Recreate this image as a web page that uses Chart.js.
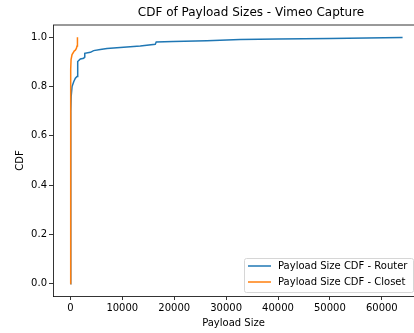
<!DOCTYPE html>
<html>
<head>
<meta charset="utf-8">
<script src="https://cdn.jsdelivr.net/npm/chart.js@4.4.1/dist/chart.umd.min.js"></script>
<style>
  html, body { margin: 0; padding: 0; background: #fff; overflow: hidden; }
  #wrap { width: 414px; height: 333px; position: relative; }
</style>
</head>
<body>
<div id="wrap"><canvas id="cdfChart"></canvas></div>
<script>
// payload size (bytes) and cumulative fraction, router capture
const routerSizes = [0, 40, 60, 80, 100, 150, 320, 640, 960, 1280, 1400, 1420, 1920, 2560, 2750, 2770,
  3850, 4480, 5770, 7050, 9600, 13460, 16350, 16540, 19800, 26290, 32700, 40000, 50000, 64000];
const routerCdf = [0, 0.10, 0.40, 0.60, 0.70, 0.76, 0.80, 0.82, 0.834, 0.841, 0.85, 0.902, 0.912, 0.915, 0.92, 0.935,
  0.939, 0.946, 0.951, 0.955, 0.959, 0.965, 0.972, 0.981, 0.983, 0.986, 0.991, 0.993, 0.995, 0.999];

// closet capture
const closetSizes = [0, 20, 40, 60, 80, 100, 130, 320, 770, 960, 1150, 1280, 1350, 1370];
const closetCdf = [0, 0.20, 0.50, 0.70, 0.81, 0.87, 0.91, 0.93, 0.945, 0.948, 0.955, 0.965, 0.985, 1.0];

const xTicks = [0, 10000, 20000, 30000, 40000, 50000, 60000];
const yTicks = [0.0, 0.2, 0.4, 0.6, 0.8, 1.0];

const seriesLabels = ['Payload Size CDF - Router', 'Payload Size CDF - Closet'];
const seriesColors = ['#1f77b4', '#ff7f0e'];

const FONT = "'DejaVu Sans', sans-serif";

function toPoints(xs, ys) {
  return xs.map((x, i) => ({ x: x, y: ys[i] }));
}

// title, top spine and the boxed legend inside the plot
const decorations = {
  id: 'decorations',
  afterDraw(chart) {
    const ctx = chart.ctx;
    const area = chart.chartArea;
    ctx.save();

    ctx.strokeStyle = '#000';
    ctx.lineWidth = 0.8;
    ctx.beginPath();
    ctx.moveTo(area.left, area.top);
    ctx.lineTo(area.right, area.top);
    ctx.stroke();

    ctx.fillStyle = '#000';
    ctx.font = '12px ' + FONT;
    ctx.textAlign = 'center';
    ctx.textBaseline = 'middle';
    ctx.fillText('CDF of Payload Sizes - Vimeo Capture', 251, 13);

    // legend
    const lx = 244, ly = 258, lw = 169, lh = 34;
    ctx.beginPath();
    ctx.roundRect(lx + 0.5, ly + 0.5, lw, lh, 2);
    ctx.fillStyle = 'rgba(255,255,255,0.85)';
    ctx.fill();
    ctx.strokeStyle = '#d6d6d6';
    ctx.lineWidth = 1;
    ctx.stroke();

    ctx.font = '10px ' + FONT;
    ctx.textAlign = 'left';
    seriesLabels.forEach((label, i) => {
      const y = 266 + i * 16;
      ctx.strokeStyle = seriesColors[i];
      ctx.lineWidth = 1.5;
      ctx.beginPath();
      ctx.moveTo(248, y);
      ctx.lineTo(271, y);
      ctx.stroke();
      ctx.fillStyle = '#000';
      ctx.fillText(label, 278, y);
    });
    ctx.restore();
  }
};

new Chart(document.getElementById('cdfChart'), {
  type: 'line',
  data: {
    datasets: [
      {
        label: seriesLabels[0],
        data: toPoints(routerSizes, routerCdf),
        borderColor: seriesColors[0],
        borderWidth: 1.5,
        pointRadius: 0,
        tension: 0,
        order: 2
      },
      {
        label: seriesLabels[1],
        data: toPoints(closetSizes, closetCdf),
        borderColor: seriesColors[1],
        borderWidth: 1.5,
        pointRadius: 0,
        tension: 0,
        order: 1
      }
    ]
  },
  options: {
    responsive: true,
    maintainAspectRatio: false,
    animation: false,
    layout: { padding: { top: 25, left: 0, right: 0, bottom: 0 } },
    plugins: {
      legend: { display: false },
      title: { display: false },
      tooltip: { enabled: false }
    },
    scales: {
      x: {
        type: 'linear',
        min: -3350,
        max: 66200,
        afterBuildTicks: (scale) => { scale.ticks = xTicks.map(v => ({ value: v })); },
        afterFit: (scale) => { scale.height = 37; },
        grid: { display: true, drawOnChartArea: false, drawTicks: true, tickLength: 4, color: '#000', lineWidth: 0.8 },
        border: { display: true, color: '#000', width: 0.8 },
        ticks: {
          autoSkip: false, maxRotation: 0, padding: 2, color: '#000',
          font: { family: FONT, size: 10 },
          callback: (v) => String(v)
        },
        title: {
          display: true, text: 'Payload Size', color: '#000',
          font: { family: FONT, size: 10 },
          padding: { top: 0, bottom: 4 }
        }
      },
      y: {
        type: 'linear',
        min: -0.05,
        max: 1.05,
        afterBuildTicks: (scale) => { scale.ticks = yTicks.map(v => ({ value: v })); },
        afterFit: (scale) => { scale.width = 53; },
        grid: { display: true, drawOnChartArea: false, drawTicks: true, tickLength: 4, color: '#000', lineWidth: 0.8 },
        border: { display: true, color: '#000', width: 0.8 },
        ticks: {
          autoSkip: false, padding: 2, color: '#000',
          font: { family: FONT, size: 10 },
          callback: (v) => v.toFixed(1)
        },
        title: {
          display: true, text: 'CDF', color: '#000',
          font: { family: FONT, size: 10 },
          padding: { top: 14, bottom: 0 }
        }
      }
    }
  },
  plugins: [decorations]
});
</script>
</body>
</html>
